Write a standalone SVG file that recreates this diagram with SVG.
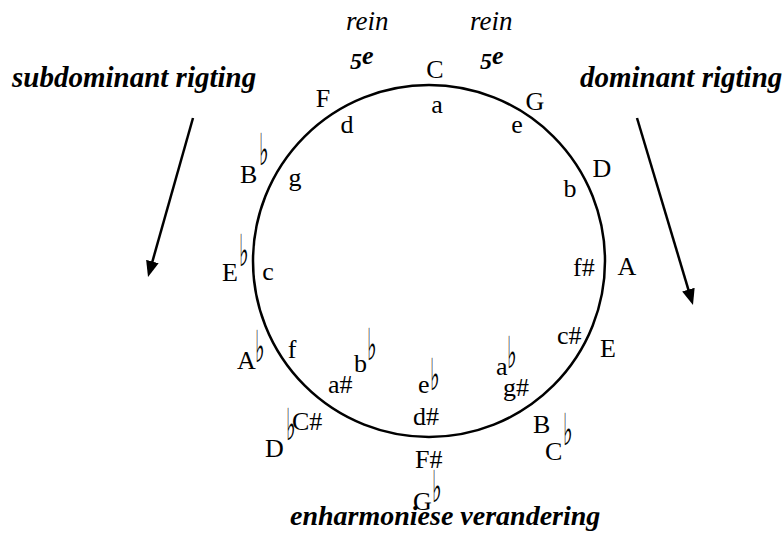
<svg xmlns="http://www.w3.org/2000/svg" width="784" height="539" viewBox="0 0 784 539">
<style>
.lbl{font-family:"Liberation Serif","Times New Roman",serif;font-size:26px;fill:#000}
.fl{font-family:"DejaVu Sans",sans-serif;font-size:34px;fill:#000}
.hd{font-family:"Liberation Serif","Times New Roman",serif;font-size:29px;font-weight:bold;font-style:italic;fill:#000}
.rein{font-family:"Liberation Serif","Times New Roman",serif;font-size:27px;font-style:italic;fill:#000}
.fifth{font-family:"Liberation Serif","Times New Roman",serif;font-size:24px;font-weight:bold;font-style:italic;fill:#000}
.conn{stroke:#000;stroke-width:2.5;fill:none}
</style>
<defs>
<marker id="ah" markerUnits="userSpaceOnUse" markerWidth="16" markerHeight="14" refX="8" refY="6.5" orient="auto">
<path d="M0,0 L16,6.5 L0,13 z" fill="#000"/>
</marker>
</defs>
<rect width="784" height="539" fill="#fff"/>
<g id="circle"><circle cx="429" cy="261" r="176" class="conn"/></g>
<g id="connectors">
<line x1="193" y1="118" x2="150.2" y2="269.3" class="conn" marker-end="url(#ah)"/>
<line x1="637" y1="118" x2="690.7" y2="297.3" class="conn" marker-end="url(#ah)"/>
</g>
<g id="headings">
<text class="hd" x="12" y="87">subdominant rigting</text>
<text class="hd" x="580" y="87">dominant rigting</text>
<text class="hd" x="290" y="525" style="font-size:28px">enharmoniese verandering</text>
<text class="rein" x="346" y="30">rein</text>
<text class="rein" x="470" y="30">rein</text>
<text class="fifth" x="350" y="69">5<tspan dy="-5" style="font-size:26px">e</tspan></text>
<text class="fifth" x="480" y="69">5<tspan dy="-5" style="font-size:26px">e</tspan></text>
</g>
<g id="node-C"><text class="lbl" x="435" y="78" text-anchor="middle">C</text><text class="lbl" x="437" y="113" text-anchor="middle">a</text></g>
<g id="node-G"><text class="lbl" x="535" y="110" text-anchor="middle">G</text><text class="lbl" x="517" y="133" text-anchor="middle">e</text></g>
<g id="node-D"><text class="lbl" x="602" y="177" text-anchor="middle">D</text><text class="lbl" x="570" y="197" text-anchor="middle">b</text></g>
<g id="node-A"><text class="lbl" x="627" y="275" text-anchor="middle">A</text><text class="lbl" x="573" y="276">f#</text></g>
<g id="node-E"><text class="lbl" x="608" y="357" text-anchor="middle">E</text><text class="lbl" x="557" y="344">c#</text></g>
<g id="node-B"><text class="lbl" x="533" y="433">B</text><text class="lbl" x="545" y="460">C</text><text class="fl" transform="translate(563,445) scale(0.6,1.3)">♭</text><text class="lbl" x="503" y="396">g#</text><text class="lbl" x="496" y="375">a</text><text class="fl" transform="translate(507,368) scale(0.6,1.3)">♭</text></g>
<g id="node-Fsharp"><text class="lbl" x="415" y="468">F#</text><text class="lbl" x="413" y="510">G</text><text class="fl" transform="translate(432,502) scale(0.6,1.3)">♭</text><text class="lbl" x="413" y="425">d#</text><text class="lbl" x="418" y="393">e</text><text class="fl" transform="translate(430,390) scale(0.6,1.3)">♭</text></g>
<g id="node-Dflat"><text class="lbl" x="265" y="457">D</text><text class="fl" transform="translate(286,440) scale(0.6,1.3)">♭</text><text class="lbl" x="292" y="430">C#</text><text class="lbl" x="328" y="393">a#</text><text class="lbl" x="354" y="372">b</text><text class="fl" transform="translate(367,360) scale(0.6,1.3)">♭</text></g>
<g id="node-Aflat"><text class="lbl" x="237" y="369">A</text><text class="fl" transform="translate(255,362) scale(0.6,1.3)">♭</text><text class="lbl" x="292" y="358" text-anchor="middle">f</text></g>
<g id="node-Eflat"><text class="lbl" x="222" y="281">E</text><text class="fl" transform="translate(239,266) scale(0.6,1.3)">♭</text><text class="lbl" x="268" y="280" text-anchor="middle">c</text></g>
<g id="node-Bflat"><text class="lbl" x="240" y="183">B</text><text class="fl" transform="translate(259,165) scale(0.6,1.3)">♭</text><text class="lbl" x="295" y="186" text-anchor="middle">g</text></g>
<g id="node-F"><text class="lbl" x="323" y="107" text-anchor="middle">F</text><text class="lbl" x="347" y="133" text-anchor="middle">d</text></g>
</svg>
